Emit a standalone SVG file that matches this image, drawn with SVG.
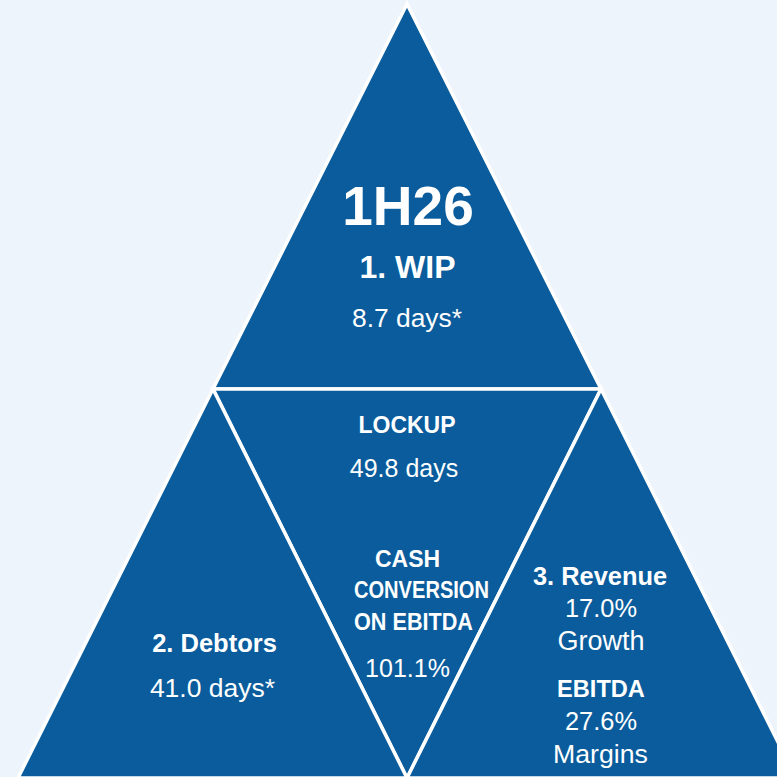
<svg xmlns="http://www.w3.org/2000/svg" width="777" height="777" viewBox="0 0 777 777">
<style>
.tri{fill:#0A5C9C;stroke:#FFFFFF;stroke-width:3.5;stroke-linejoin:miter}
text{font-family:"Liberation Sans",Arial,sans-serif;fill:#FFFFFF;text-anchor:middle}
.b{font-weight:bold}
</style>
<rect x="0" y="0" width="777" height="777" fill="#EEF4FB"/>
<g id="connectors"></g>
<g id="wip">
<polygon class="tri" points="407,4 213,389 601,389"/>
<text class="b" x="408" y="225" font-size="55">1H26</text>
<text class="b" x="407.5" y="278" font-size="32">1. WIP</text>
<text x="407" y="327" font-size="26.4">8.7 days*</text>
</g>
<g id="lockup">
<polygon class="tri" points="213,389 601,389 407,778"/>
<text class="b" x="407" y="433" font-size="23">LOCKUP</text>
<text x="404" y="477" font-size="25">49.8 days</text>
<text class="b" x="407.5" y="567" font-size="23">CASH</text>
<text class="b" x="421.5" y="598" font-size="23" textLength="135" lengthAdjust="spacingAndGlyphs">CONVERSION</text>
<text class="b" x="413.5" y="630" font-size="23" textLength="119" lengthAdjust="spacingAndGlyphs">ON EBITDA</text>
<text x="407.5" y="677" font-size="25">101.1%</text>
</g>
<g id="debtors">
<polygon class="tri" points="213,389 18,778 407,778"/>
<text class="b" x="214.5" y="652" font-size="25.5">2. Debtors</text>
<text x="212.5" y="697" font-size="26.5">41.0 days*</text>
</g>
<g id="revenue">
<polygon class="tri" points="601,389 407,778 796,778"/>
<text class="b" x="600" y="585" font-size="25.4">3. Revenue</text>
<text x="601" y="617" font-size="25.4">17.0%</text>
<text x="601" y="650" font-size="27">Growth</text>
<text class="b" x="601" y="697" font-size="23.6">EBITDA</text>
<text x="601" y="730" font-size="25.4">27.6%</text>
<text x="600.5" y="763" font-size="26.7">Margins</text>
</g>
</svg>
